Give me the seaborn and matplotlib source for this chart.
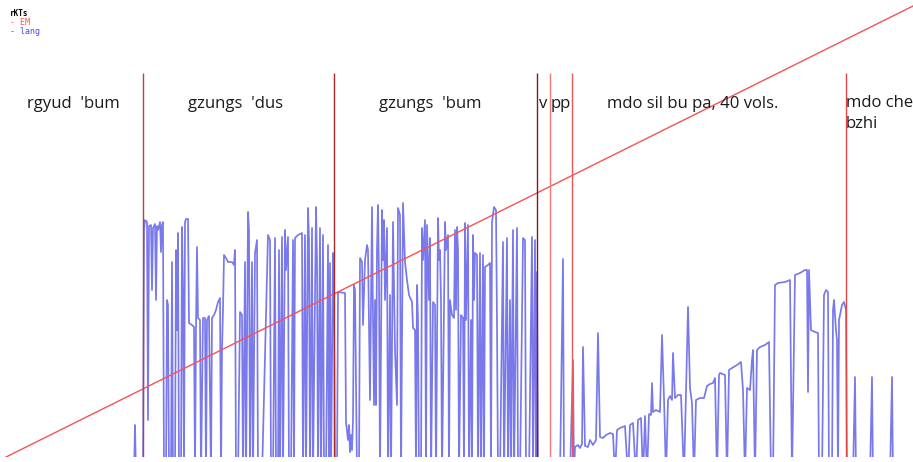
import matplotlib
matplotlib.use("Agg")
import matplotlib.pyplot as plt
import seaborn as sns

# section boundaries (text position) and labels
section_x = [143, 334, 537, 550, 572, 846]
section_colors = ['#b84040', '#a82828', '#8a1818', '#f07878', '#e85858', '#e04848']
label_text = ["rgyud  'bum", "gzungs  'dus", "gzungs  'bum", "v", "pp",
              "mdo sil bu pa, 40 vols."]
label_x = [73, 235, 430, 543, 561, 693]
last_label = "mdo che\nbzhi"

# EM: straight reference line
em_x = [0, 913]
em_y = [-3, 451]

# lang: values (-20 = drop to the floor)
lang_x = [
    # before first section
    130, 134, 135, 136, 142,
    # gzungs 'dus
    143, 144, 145, 147, 148, 149, 151, 152, 153, 155, 156, 157, 158, 160, 161,
    162, 163, 164, 166, 167, 168, 169, 171, 172, 173, 175, 176, 177, 178, 179,
    181, 182, 183, 184, 185, 186, 188, 189, 192, 194, 195, 196, 197, 198, 200,
    201, 203, 205, 206, 207, 209, 211, 212, 214, 216, 218, 220, 221, 222, 223,
    224, 226, 228, 232, 234, 235, 236, 238, 240, 242, 243, 245, 246, 248, 249,
    250, 252, 253, 255, 257, 258, 262, 268, 270, 271, 273, 275, 276, 278, 279,
    280, 282, 283, 285, 286, 288, 289, 291, 293, 294, 295, 298, 302, 303, 305,
    306, 308, 309, 310, 312, 313, 316, 317, 318, 320, 321, 323, 324, 326, 328,
    329, 330, 331, 333,
    # gzungs 'bum
    334, 335, 337, 338, 345, 346, 348, 349, 350, 351, 352, 353, 354, 355, 357,
    359, 360, 362, 363, 365, 367, 368, 370, 372, 373, 374, 375, 376, 377, 378,
    379, 380, 382, 383, 384, 385, 387, 388, 390, 391, 393, 395, 397, 398, 400,
    401, 403, 405, 407, 409, 412, 413, 415, 416, 417, 418, 419, 421, 422, 423,
    425, 426, 427, 429, 430, 431, 433, 435, 436, 438, 439, 440, 441, 442, 445,
    446, 448, 449, 450, 452, 454, 455, 456, 457, 458, 459, 461, 463, 464, 465,
    466, 468, 469, 471, 472, 473, 474, 475, 477, 478, 480, 481, 483, 484, 485,
    488, 490, 491, 492, 494, 496, 497, 498, 500, 503, 504, 507, 508, 510, 511,
    513, 514, 517, 518, 520, 523, 525, 526, 529, 532, 533, 535, 536, 537, 538,
    # v / pp
    560, 563, 564,
    # mdo sil bu pa
    570, 573, 574, 575, 578, 580, 582, 583, 585, 588, 590, 593, 596, 598, 600,
    603, 606, 610, 613, 615, 617, 620, 625, 628, 630, 633, 636, 638, 641, 643,
    645, 647, 649, 651, 652, 653, 656, 660, 662, 664, 666, 668, 670, 672, 673,
    675, 678, 681, 684, 686, 688, 690, 692, 694, 696, 700, 704, 707, 710, 713,
    715, 717, 719, 720, 725, 727, 729, 732, 737, 741, 743, 745, 747, 750, 752,
    753, 755, 757, 760, 765, 769, 771, 773, 775, 778, 785, 790, 792, 795, 800,
    805, 807, 808, 809, 811, 815, 818, 819, 822, 824, 826, 828, 829, 832, 833,
    834, 836, 837, 838, 839, 842, 844, 846, 847,
    # mdo che bzhi
    853, 855, 856, 870, 872, 873, 890, 892, 893,
]
lang_y = [
    -20, -20, 32, -20, -20,
    -20, 227, 237, 235, 37, 231, 232, 167, 229, 233, 157, 231, 227, 235, 205,
    232, 235, -20, -20, 157, 152, -20, -20, 195, -20, -20, 207, 127, 224, -20,
    -20, 230, 167, -20, 235, 238, 238, 134, 132, 130, -20, 130, 210, 139, 137,
    -20, 139, 139, -20, 137, 141, -20, 139, 142, 147, 155, 159, -20, 107, 147,
    202, 199, 195, 195, 192, 207, -20, -20, 145, 142, -20, 195, -20, 245, 227,
    -20, 195, -20, 204, 217, -20, -20, 222, 217, -20, -20, 219, -20, -20, 207,
    -20, 220, -20, 227, 187, 220, -20, -20, 217, -20, 219, 222, 224, -20, 222,
    -20, 249, 217, -20, 229, -20, 250, 197, -20, 229, -20, 222, -20, -20, 212,
    -20, 194, -20, 204,
    157, -20, -20, 165, 164, 35, 17, 32, 5, 22, 7, 37, 172, 167, -20,
    -20, 199, 195, 132, 197, 212, 207, 57, 250, 137, 52, 157, 52, 207, 252,
    177, -20, 247, 197, 237, 157, 229, -20, 162, -20, 235, 107, 52, 249, 242,
    -20, 254, 195, 177, 162, 155, 129, 127, -20, 172, 137, -20, -20, 229, 197,
    237, -20, 232, 157, 219, -20, 155, 152, -20, 239, 197, 207, 157, -20, 235,
    207, 222, -20, 157, 142, 139, 227, 147, 230, 207, -20, 142, 139, -20, 234,
    137, 232, -20, 137, -20, 222, 157, 204, 202, -20, 204, -20, 202, -20, 190,
    192, 194, -20, 235, 250, 247, 135, -20, -20, 215, -20, 219, -20, 157, -20,
    227, -20, 229, -20, -20, 219, 217, -20, -20, 220, -20, 217, -20, 185, -20,
    -20, 198, -20,
    -20, 97, -20, 10, 12, 9, 13, 110, 11, 10, 17, 12, 17, 124, 20,
    19, 22, 24, 23, -20, 27, 29, 31, -20, 32, 34, -20, 37, 39, -20,
    41, -20, 43, 42, 74, 45, 47, 45, 122, 59, -20, 57, 61, 57, 104,
    59, 62, 62, -20, 65, 150, 69, 54, -20, 57, 59, 59, 71, 73, 74,
    79, -20, 82, 84, 82, -20, 87, 89, 92, 95, 67, -20, 69, 67, 97,
    107, -20, 107, 110, 112, 115, -20, -20, 172, 174, 175, 177, -20, 182, 184,
    187, 187, 65, 187, 127, 125, 124, -20, -20, 162, 167, 165, -20, -20, 147,
    157, 127, 117, -20, 137, 152, 155, 147, -20,
    -20, 80, -20, -20, 80, -20, -20, 80, -20,
]

sns.set_style("white")
plt.rcParams['font.family'] = ['Open Sans', 'DejaVu Sans']

fig = plt.figure(figsize=(9.13, 4.62), dpi=100)
ax = fig.add_axes([0, 5 / 462, 1, 457 / 462])

sns.lineplot(x=lang_x, y=lang_y, sort=False, estimator=None, ax=ax,
             color='#2020e0', alpha=0.6, lw=1.25)
sns.lineplot(x=em_x, y=em_y, sort=False, estimator=None, ax=ax,
             color='#f25454', lw=1.0)
ax.vlines(section_x, 0, 384, colors=section_colors, lw=1.0)

for txt, x in zip(label_text, label_x):
    ax.text(x, 353, txt, ha='center', va='center', fontsize=12, color='#1a1a1a')
ax.text(section_x[-1], 362, last_label, ha='left', va='top', fontsize=12,
        color='#1a1a1a', linespacing=1.45)

ax.set_xlim(0, 913)
ax.set_ylim(0, 457)
ax.axis('off')

# small legend in the corner
fig.text(10 / 913, 1 - 14 / 462, "rKTs", family='DejaVu Sans Mono', fontsize=5.5,
         weight='bold', va='center', color='black')
fig.text(10 / 913, 1 - 22.5 / 462, "- EM", family='DejaVu Sans Mono', fontsize=6,
         va='center', color='#f25454')
fig.text(10 / 913, 1 - 31.5 / 462, "- lang", family='DejaVu Sans Mono', fontsize=6,
         va='center', color='#4b4bf0')

fig.savefig('out.png', dpi=100)
